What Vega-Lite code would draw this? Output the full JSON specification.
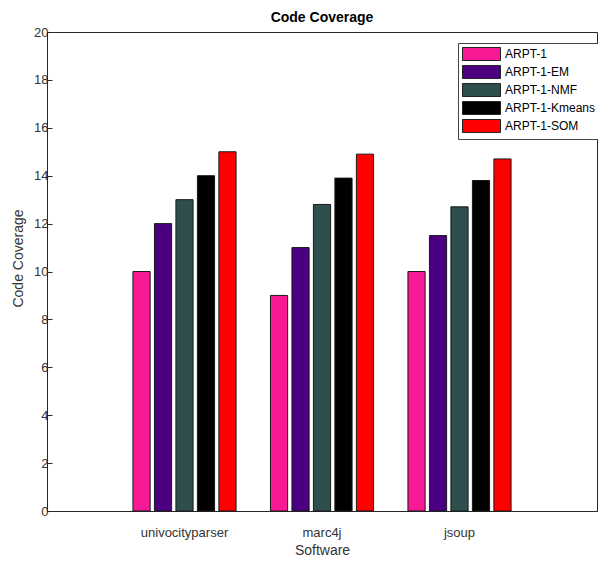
{
  "$schema": "https://vega.github.io/schema/vega-lite/v6.json",
  "width": 550,
  "height": 479,
  "autosize": "none",
  "padding": {"left": 47, "top": 32, "right": 1, "bottom": 50},
  "background": "white",
  "config": {
    "font": "Liberation Sans",
    "view": {"stroke": "#262626", "strokeWidth": 1},
    "axis": {"grid": false, "domainColor": "#262626", "tickColor": "#262626", "labelColor": "#333333", "titleColor": "#333333", "labelFont": "Liberation Sans", "titleFont": "Liberation Sans", "titleFontWeight": "normal"}
  },
  "title": {"text": "Code Coverage", "fontSize": 14, "fontWeight": "bold", "color": "#000000", "font": "Liberation Sans", "offset": 1},
  "data": {
    "values": [
      {"software": "univocityparser", "method": "ARPT-1", "value": 10},
      {"software": "univocityparser", "method": "ARPT-1-EM", "value": 12},
      {"software": "univocityparser", "method": "ARPT-1-NMF", "value": 13},
      {"software": "univocityparser", "method": "ARPT-1-Kmeans", "value": 14},
      {"software": "univocityparser", "method": "ARPT-1-SOM", "value": 15},
      {"software": "marc4j", "method": "ARPT-1", "value": 9},
      {"software": "marc4j", "method": "ARPT-1-EM", "value": 11},
      {"software": "marc4j", "method": "ARPT-1-NMF", "value": 12.8},
      {"software": "marc4j", "method": "ARPT-1-Kmeans", "value": 13.9},
      {"software": "marc4j", "method": "ARPT-1-SOM", "value": 14.9},
      {"software": "jsoup", "method": "ARPT-1", "value": 10},
      {"software": "jsoup", "method": "ARPT-1-EM", "value": 11.5},
      {"software": "jsoup", "method": "ARPT-1-NMF", "value": 12.7},
      {"software": "jsoup", "method": "ARPT-1-Kmeans", "value": 13.8},
      {"software": "jsoup", "method": "ARPT-1-SOM", "value": 14.7}
    ]
  },
  "mark": {"type": "bar", "stroke": "#1a1a1a", "strokeWidth": 1, "opacity": 1},
  "encoding": {
    "x": {
      "field": "software", "type": "nominal",
      "sort": ["univocityparser", "marc4j", "jsoup"],
      "scale": {"paddingInner": 0.25, "paddingOuter": 0.625},
      "axis": {"orient": "bottom", "title": "Software", "labelAngle": 0, "labelFontSize": 13, "titleFontSize": 14, "tickSize": -5, "labelPadding": 20, "titlePadding": 4}
    },
    "xOffset": {
      "field": "method", "type": "nominal",
      "sort": ["ARPT-1", "ARPT-1-EM", "ARPT-1-NMF", "ARPT-1-Kmeans", "ARPT-1-SOM"],
      "scale": {"paddingInner": 0.2, "paddingOuter": 0}
    },
    "y": {
      "field": "value", "type": "quantitative",
      "scale": {"domain": [0, 20], "nice": false},
      "axis": {"orient": "left", "title": "Code Coverage", "values": [0, 2, 4, 6, 8, 10, 12, 14, 16, 18, 20], "labelFontSize": 13, "titleFontSize": 14, "tickSize": -5, "labelPadding": 4, "titlePadding": 8, "titleY": 226}
    },
    "color": {
      "field": "method", "type": "nominal",
      "scale": {
        "domain": ["ARPT-1", "ARPT-1-EM", "ARPT-1-NMF", "ARPT-1-Kmeans", "ARPT-1-SOM"],
        "range": ["#F81A95", "#4B0082", "#2F4F4F", "#000000", "#FF0000"]
      },
      "legend": {
        "title": null,
        "orient": "none",
        "legendX": 411,
        "legendY": 11,
        "symbolType": "M-1,-1H4.846V1H-1Z",
        "symbolSize": 169,
        "symbolStrokeColor": "#222222",
        "symbolStrokeWidth": 1,
        "symbolOpacity": 1,
        "labelFontSize": 12,
        "labelColor": "#000000",
        "labelFont": "Liberation Sans",
        "labelOffset": 29,
        "rowPadding": 0,
        "padding": 4,
        "strokeColor": "#444444",
        "fillColor": "#FFFFFF"
      }
    }
  }
}
